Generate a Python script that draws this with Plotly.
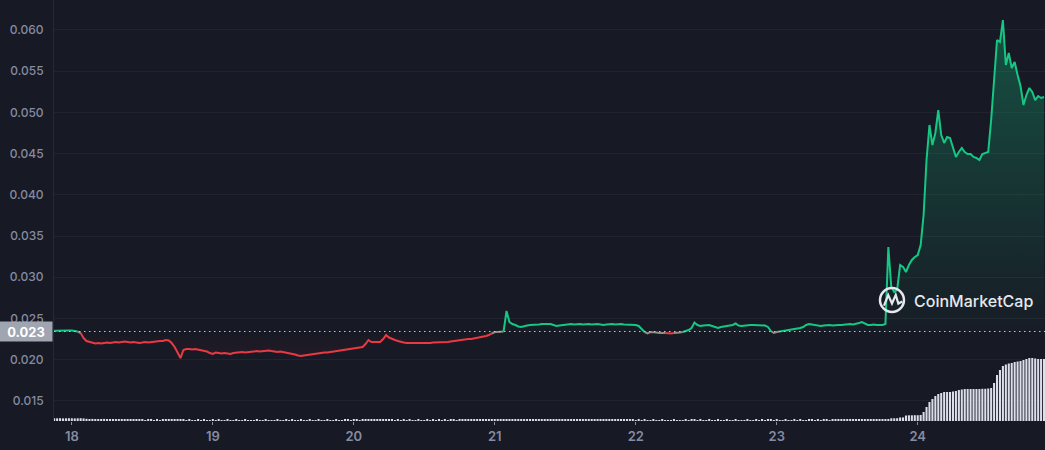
import pandas as pd
import plotly.graph_objects as go

# ---------------- data ----------------
times = pd.date_range("2024-01-17 21:00", periods=338, freq="30min")

price = [
    0.02350, 0.02352, 0.02355, 0.02356, 0.02355, 0.02354, 0.02352, 0.02348, 0.02340, 0.02322,
    0.02262, 0.02226, 0.02214, 0.02202, 0.02195, 0.02201, 0.02195, 0.02201, 0.02207, 0.02201,
    0.02207, 0.02214, 0.02207, 0.02214, 0.02220, 0.02214, 0.02207, 0.02214, 0.02207, 0.02201,
    0.02207, 0.02214, 0.02207, 0.02214, 0.02220, 0.02220, 0.02226, 0.02226, 0.02238, 0.02232,
    0.02201, 0.02153, 0.02080, 0.02019, 0.02117, 0.02129, 0.02129, 0.02123, 0.02129, 0.02123,
    0.02117, 0.02104, 0.02098, 0.02080, 0.02068, 0.02086, 0.02080, 0.02074, 0.02080, 0.02074,
    0.02068, 0.02080, 0.02086, 0.02092, 0.02092, 0.02086, 0.02092, 0.02098, 0.02098, 0.02104,
    0.02098, 0.02104, 0.02104, 0.02111, 0.02104, 0.02098, 0.02092, 0.02098, 0.02092, 0.02086,
    0.02080, 0.02074, 0.02062, 0.02050, 0.02044, 0.02050, 0.02056, 0.02062, 0.02068, 0.02074,
    0.02080, 0.02080, 0.02086, 0.02086, 0.02092, 0.02092, 0.02098, 0.02104, 0.02111, 0.02117,
    0.02123, 0.02129, 0.02135, 0.02141, 0.02147, 0.02153, 0.02189, 0.02238, 0.02214, 0.02214,
    0.02220, 0.02214, 0.02250, 0.02298, 0.02268, 0.02250, 0.02238, 0.02226, 0.02214, 0.02207,
    0.02201, 0.02201, 0.02195, 0.02201, 0.02195, 0.02201, 0.02195, 0.02201, 0.02201, 0.02207,
    0.02207, 0.02214, 0.02214, 0.02207, 0.02214, 0.02220, 0.02226, 0.02226, 0.02232, 0.02238,
    0.02244, 0.02250, 0.02250, 0.02256, 0.02262, 0.02268, 0.02274, 0.02286, 0.02298, 0.02317,
    0.02335, 0.02335, 0.02335, 0.02341, 0.02590, 0.02456, 0.02432, 0.02420, 0.02402, 0.02396,
    0.02408, 0.02414, 0.02420, 0.02420, 0.02426, 0.02426, 0.02432, 0.02432, 0.02438, 0.02432,
    0.02420, 0.02408, 0.02414, 0.02420, 0.02426, 0.02426, 0.02432, 0.02426, 0.02432, 0.02432,
    0.02426, 0.02432, 0.02432, 0.02426, 0.02432, 0.02432, 0.02426, 0.02420, 0.02426, 0.02432,
    0.02432, 0.02426, 0.02432, 0.02432, 0.02426, 0.02426, 0.02426, 0.02420, 0.02420, 0.02408,
    0.02371, 0.02335, 0.02317, 0.02335, 0.02335, 0.02329, 0.02323, 0.02323, 0.02323, 0.02317,
    0.02317, 0.02323, 0.02323, 0.02329, 0.02335, 0.02347, 0.02359, 0.02383, 0.02450, 0.02420,
    0.02408, 0.02414, 0.02420, 0.02420, 0.02408, 0.02396, 0.02383, 0.02396, 0.02402, 0.02408,
    0.02408, 0.02420, 0.02438, 0.02414, 0.02408, 0.02414, 0.02420, 0.02420, 0.02420, 0.02420,
    0.02420, 0.02420, 0.02414, 0.02396, 0.02347, 0.02323, 0.02335, 0.02341, 0.02347, 0.02353,
    0.02359, 0.02359, 0.02371, 0.02377, 0.02383, 0.02396, 0.02420, 0.02432, 0.02426, 0.02420,
    0.02414, 0.02408, 0.02414, 0.02420, 0.02420, 0.02414, 0.02420, 0.02420, 0.02420, 0.02426,
    0.02432, 0.02432, 0.02426, 0.02432, 0.02444, 0.02456, 0.02438, 0.02420, 0.02420, 0.02426,
    0.02420, 0.02420, 0.02420, 0.02432, 0.03367, 0.02881, 0.02820, 0.02845, 0.03148, 0.03124,
    0.03063, 0.03148, 0.03209, 0.03245, 0.03269, 0.03391, 0.03755, 0.04422, 0.04847, 0.04604,
    0.04750, 0.05029, 0.04726, 0.04629, 0.04701, 0.04689, 0.04580, 0.04459, 0.04519, 0.04568,
    0.04519, 0.04495, 0.04495, 0.04459, 0.04447, 0.04422, 0.04495, 0.04507, 0.04519, 0.04908,
    0.05393, 0.05879, 0.05854, 0.06121, 0.05575, 0.05721, 0.05539, 0.05612, 0.05454, 0.05320,
    0.05090, 0.05211, 0.05296, 0.05248, 0.05150, 0.05199, 0.05175, 0.05187,
]

volume = [
    0.28, 0.27, 0.28, 0.26, 0.27, 0.28, 0.27, 0.26, 0.27, 0.28,
    0.26, 0.22, 0.20, 0.21, 0.20, 0.19, 0.20, 0.21, 0.20, 0.19,
    0.20, 0.20, 0.19, 0.20, 0.18, 0.14, 0.13, 0.12, 0.12, 0.11,
    0.11, 0.10, 0.11, 0.12, 0.10, 0.11, 0.10, 0.11, 0.12, 0.11,
    0.12, 0.11, 0.13, 0.12, 0.11, 0.10, 0.11, 0.10, 0.10, 0.11,
    0.10, 0.11, 0.10, 0.10, 0.11, 0.10, 0.11, 0.10, 0.10, 0.11,
    0.10, 0.10, 0.11, 0.10, 0.10, 0.11, 0.10, 0.10, 0.10, 0.11,
    0.10, 0.10, 0.11, 0.10, 0.10, 0.10, 0.11, 0.10, 0.10, 0.11,
    0.10, 0.11, 0.10, 0.10, 0.11, 0.10, 0.10, 0.11, 0.10, 0.10,
    0.11, 0.10, 0.10, 0.11, 0.10, 0.10, 0.11, 0.10, 0.10, 0.11,
    0.11, 0.10, 0.11, 0.11, 0.10, 0.11, 0.12, 0.12, 0.11, 0.11,
    0.12, 0.11, 0.12, 0.12, 0.11, 0.11, 0.10, 0.11, 0.10, 0.11,
    0.10, 0.11, 0.10, 0.10, 0.11, 0.10, 0.10, 0.11, 0.10, 0.11,
    0.10, 0.11, 0.10, 0.11, 0.10, 0.11, 0.11, 0.10, 0.11, 0.11,
    0.11, 0.12, 0.11, 0.12, 0.11, 0.12, 0.12, 0.11, 0.12, 0.12,
    0.13, 0.14, 0.14, 0.15, 0.15, 0.14, 0.15, 0.14, 0.14, 0.15,
    0.14, 0.15, 0.14, 0.14, 0.15, 0.14, 0.14, 0.15, 0.14, 0.14,
    0.14, 0.15, 0.14, 0.14, 0.13, 0.14, 0.14, 0.13, 0.14, 0.13,
    0.13, 0.14, 0.13, 0.13, 0.14, 0.13, 0.13, 0.12, 0.13, 0.12,
    0.12, 0.11, 0.12, 0.11, 0.11, 0.12, 0.11, 0.11, 0.10, 0.11,
    0.10, 0.11, 0.10, 0.10, 0.11, 0.10, 0.10, 0.11, 0.10, 0.10,
    0.10, 0.11, 0.10, 0.10, 0.10, 0.11, 0.10, 0.11, 0.11, 0.10,
    0.11, 0.10, 0.10, 0.11, 0.10, 0.10, 0.11, 0.10, 0.10, 0.11,
    0.10, 0.10, 0.11, 0.10, 0.10, 0.10, 0.11, 0.10, 0.10, 0.11,
    0.10, 0.11, 0.10, 0.11, 0.11, 0.10, 0.11, 0.10, 0.10, 0.11,
    0.10, 0.10, 0.11, 0.10, 0.11, 0.10, 0.10, 0.11, 0.11, 0.10,
    0.11, 0.10, 0.11, 0.11, 0.10, 0.11, 0.11, 0.12, 0.11, 0.12,
    0.12, 0.12, 0.13, 0.12, 0.13, 0.13, 0.14, 0.13, 0.14, 0.14,
    0.15, 0.16, 0.17, 0.18, 0.20, 0.27, 0.27, 0.28, 0.35, 0.36,
    0.55, 0.57, 0.57, 0.58, 0.58, 0.60, 0.90, 1.40, 1.90, 2.20,
    2.50, 2.70, 2.80, 2.90, 2.90, 2.90, 2.95, 3.00, 3.10, 3.15,
    3.20, 3.20, 3.20, 3.20, 3.20, 3.20, 3.22, 3.22, 3.25, 3.30,
    3.80, 4.60, 5.10, 5.50, 5.65, 5.75, 5.80, 5.90, 5.95, 6.00,
    6.10, 6.20, 6.30, 6.30, 6.25, 6.20, 6.20, 6.20,
]

OPEN_PRICE = 0.02341
OPEN_LABEL = "0.023"
day_ticks = ["2024-01-18", "2024-01-19", "2024-01-20", "2024-01-21",
             "2024-01-22", "2024-01-23", "2024-01-24"]
day_labels = ["18", "19", "20", "21", "22", "23", "24"]
price_ticks = [0.015, 0.020, 0.025, 0.030, 0.035, 0.040, 0.045, 0.050, 0.055, 0.060]

# ---------------- styling ----------------
BG = "#171924"
GREEN = "#16c784"
RED = "#ea3943"
NEUTRAL = "#8f8c84"
LABEL = "#858ca2"
FONT = "Inter, Roboto, sans-serif"

fig = go.Figure()

# fill between price and open price (green above, faint red below)
base = [OPEN_PRICE] * len(times)
above = [max(p, OPEN_PRICE) for p in price]
below = [min(p, OPEN_PRICE) for p in price]

fig.add_trace(go.Scatter(x=times, y=base, mode="lines", line=dict(width=0),
                         hoverinfo="skip", showlegend=False))
fig.add_trace(go.Scatter(x=times, y=above, mode="lines", line=dict(width=0),
                         fill="tonexty",
                         fillgradient=dict(type="vertical",
                                           colorscale=[[0, "rgba(22,199,132,0.02)"],
                                                       [1, "rgba(22,199,132,0.32)"]]),
                         hoverinfo="skip", showlegend=False))
fig.add_trace(go.Scatter(x=times, y=base, mode="lines", line=dict(width=0),
                         hoverinfo="skip", showlegend=False))
fig.add_trace(go.Scatter(x=times, y=below, mode="lines", line=dict(width=0),
                         fill="tonexty",
                         fillgradient=dict(type="vertical",
                                           colorscale=[[0, "rgba(234,57,67,0.06)"],
                                                       [1, "rgba(234,57,67,0.0)"]]),
                         hoverinfo="skip", showlegend=False))

# price line, coloured relative to the open price
def seg_key(a, b):
    d = (a + b) / 2 - OPEN_PRICE
    if d >= 0:
        return "g"
    if d > -0.0002:
        return "n"
    return "r"

runs = {"g": ([], []), "n": ([], []), "r": ([], [])}
i = 0
n = len(price)
while i < n - 1:
    k = seg_key(price[i], price[i + 1])
    j = i
    while j < n - 1 and seg_key(price[j], price[j + 1]) == k:
        j += 1
    xs, ys = runs[k]
    xs.extend(list(times[i:j + 1]) + [None])
    ys.extend(price[i:j + 1] + [None])
    i = j

for k, col in (("r", RED), ("n", NEUTRAL), ("g", GREEN)):
    xs, ys = runs[k]
    fig.add_trace(go.Scatter(x=xs, y=ys, mode="lines",
                             line=dict(color=col, width=2),
                             connectgaps=False, hoverinfo="skip", showlegend=False))

# volume bars
fig.add_trace(go.Bar(x=times, y=volume, yaxis="y2",
                     marker=dict(color="#dcdfe9", line=dict(width=0)),
                     hoverinfo="skip", showlegend=False))

# open-price dotted line
fig.add_shape(type="line", xref="paper", x0=0, x1=1, yref="y",
              y0=OPEN_PRICE, y1=OPEN_PRICE,
              line=dict(color="#c3c7d2", width=1, dash="1.5px,3.5px"), layer="above")

# open-price label
fig.add_annotation(xref="paper", x=0, xanchor="right", xshift=-1,
                   yref="y", y=OPEN_PRICE, yanchor="middle",
                   text="<b>" + OPEN_LABEL + "</b>", showarrow=False,
                   width=52, height=19, borderpad=0, align="center",
                   bgcolor="#a0a5b2",
                   font=dict(family=FONT, size=13, color="#ffffff"))

# watermark
fig.add_shape(type="circle", xref="paper", yref="paper",
              x0=0.8335, x1=0.8577, y0=0.2589, y1=0.3159,
              line=dict(color="#e6e8ef", width=2.5), layer="above")
fig.add_shape(type="path", xref="paper", yref="paper",
              path="M 0.8375 0.2740 L 0.8418 0.2993 L 0.8456 0.2790 L 0.8494 0.2993 "
                   "L 0.8520 0.2790 L 0.8560 0.2840",
              line=dict(color="#e6e8ef", width=2.2), layer="above")
fig.add_annotation(xref="paper", yref="paper", x=0.8658, y=0.286,
                   xanchor="left", yanchor="middle", showarrow=False,
                   text="CoinMarketCap",
                   font=dict(family=FONT, size=16, color="#e6e8ef", weight=500))

fig.update_layout(
    width=1045, height=450,
    margin=dict(l=54, r=0, t=0, b=29),
    paper_bgcolor=BG, plot_bgcolor=BG,
    bargap=0.3,
    showlegend=False,
    hovermode=False,
    xaxis=dict(
        type="date",
        range=["2024-01-17 20:58", "2024-01-24 21:40"],
        tickvals=day_ticks, ticktext=day_labels,
        showgrid=False, zeroline=False, showline=False,
        ticks="outside", ticklen=3, tickwidth=1, tickcolor=LABEL,
        tickfont=dict(family=FONT, size=13, color=LABEL, weight=600),
        fixedrange=True,
    ),
    yaxis=dict(
        range=[0.01255, 0.06364],
        tickvals=price_ticks, tickformat=".3f",
        showgrid=True, gridcolor="#21242f", gridwidth=1,
        zeroline=False, showline=True, linecolor="#262936", linewidth=1,
        ticks="", ticklabelstandoff=7,
        tickfont=dict(family=FONT, size=12, color=LABEL, weight=500),
        fixedrange=True,
    ),
    yaxis2=dict(
        overlaying="y", range=[0, 42.1], visible=False, fixedrange=True,
    ),
)

fig.write_html(
    "out.html",
    config={"displayModeBar": False},
    post_script="document.body.style.margin='0';document.body.style.background='#171924';"
                "document.body.style.overflow='hidden';",
)
